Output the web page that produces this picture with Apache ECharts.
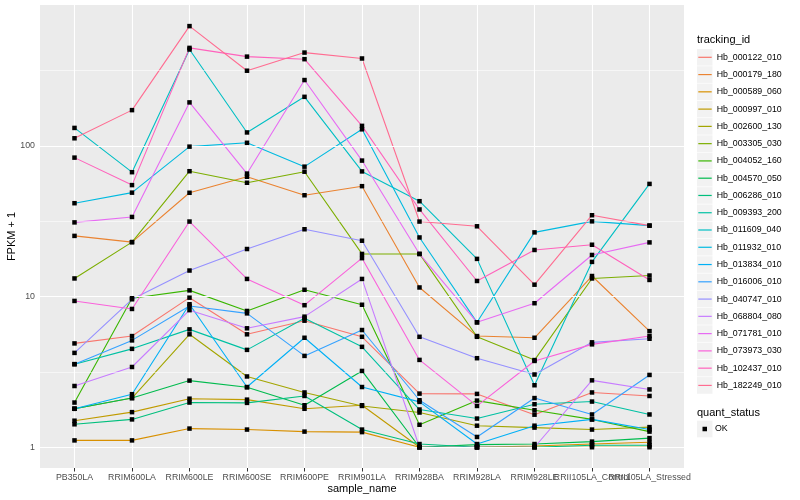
<!DOCTYPE html>
<html><head><meta charset="utf-8">
<script src="https://cdn.jsdelivr.net/npm/echarts@6/dist/echarts.min.js"></script>
<style>html,body{margin:0;padding:0;background:#fff}#c{width:800px;height:500px}</style>
</head><body><div id="c"></div>
<script>
const categories = ['PB350LA','RRIM600LA','RRIM600LE','RRIM600SE','RRIM600PE','RRIM901LA','RRIM928BA','RRIM928LA','RRIM928LE','RRII105LA_Control','RRII105LA_Stressed'];
const trackingIds = ['Hb_000122_010','Hb_000179_180','Hb_000589_060','Hb_000997_010','Hb_002600_130','Hb_003305_030','Hb_004052_160','Hb_004570_050','Hb_006286_010','Hb_009393_200','Hb_011609_040','Hb_011932_010','Hb_013834_010','Hb_016006_010','Hb_040747_010','Hb_068804_080','Hb_071781_010','Hb_073973_030','Hb_102437_010','Hb_182249_010'];
const seriesColors = ['#F8766D','#EA8331','#D89000','#C09B00','#A3A500','#7CAE00','#39B600','#00BB4E','#00BF7D','#00C1A3','#00BFC4','#00BAE0','#00B0F6','#35A2FF','#9590FF','#C77CFF','#E76BF3','#FA62DB','#FF62BC','#FF6C91'];
const yTickValues = [1, 10, 100];
const yMinorValues = [3.1623, 31.623, 316.23];

const Hb_000122_010 = [4.89, 5.47, 9.84, 5.62, 6.92, 5.41, 2.27, 2.26, 1.645, 2.31, 2.19];
const Hb_000179_180 = [25.3, 23.0, 48.9, 62.5, 47.1, 54.1, 11.5, 5.47, 5.33, 13.7, 5.9];
const Hb_000589_060 = [1.11, 1.11, 1.33, 1.31, 1.27, 1.26, 1.0, 1.0, 1.02, 1.05, 1.08];
const Hb_000997_010 = [1.50, 1.71, 2.10, 2.07, 1.80, 1.90, 1.0, 1.0, 1.0, 1.0, 1.0];
const Hb_002600_130 = [1.80, 2.12, 5.62, 2.95, 2.31, 1.88, 1.70, 1.39, 1.35, 1.31, 1.36];
const Hb_003305_030 = [13.2, 23.0, 68, 57, 67.5, 19.2, 19.2, 5.41, 3.79, 13.2, 13.8];
const Hb_004052_160 = [1.98, 9.75, 11.0, 8.03, 11.1, 8.83, 1.41, 2.04, 1.76, 1.53, 1.27];
const Hb_004570_050 = [1.80, 2.12, 2.77, 2.50, 1.90, 3.21, 1.0, 1.04, 1.05, 1.09, 1.15];
const Hb_006286_010 = [1.42, 1.53, 1.98, 1.97, 2.19, 1.31, 1.05, 1.0, 1.0, 1.03, 1.03];
const Hb_009393_200 = [3.56, 4.5, 6.06, 4.43, 7.18, 4.64, 1.78, 1.55, 1.93, 2.01, 1.65];
const Hb_011609_040 = [131.8, 67, 437, 123, 212, 67.8, 43, 17.8, 2.58, 17, 56];
const Hb_011932_010 = [41.7, 49, 99, 105, 72.9, 129, 24.7, 6.75, 26.7, 31.6, 29.6];
const Hb_013834_010 = [1.80, 2.25, 8.9, 2.51, 5.33, 2.51, 2.0, 1.05, 1.39, 1.53, 1.31];
const Hb_016006_010 = [3.56, 5.12, 8.67, 7.74, 4.04, 6.0, 2.05, 1.17, 2.12, 1.65, 3.02];
const Hb_040747_010 = [4.23, 9.6, 14.9, 20.7, 28, 23.5, 5.41, 3.9, 3.04, 4.97, 5.25];
const Hb_068804_080 = [2.55, 3.41, 8.13, 6.16, 7.36, 13.1, 1.0, 1.0, 1.0, 2.78, 2.42];
const Hb_071781_010 = [31.1, 33.8, 194.7, 65.6, 274, 80, 19.2, 6.75, 9.04, 18.9, 22.9];
const Hb_073973_030 = [9.36, 8.28, 31.5, 13.1, 8.77, 18.0, 3.8, 1.88, 3.74, 4.82, 5.47];
const Hb_102437_010 = [83.7, 55, 448, 392, 377, 136, 37.9, 12.7, 20.4, 22.1, 12.9];
const Hb_182249_010 = [112.5, 173, 625, 316, 417, 381, 31.5, 29.3, 12, 34.7, 29.6];

const seriesValues = [Hb_000122_010, Hb_000179_180, Hb_000589_060, Hb_000997_010, Hb_002600_130, Hb_003305_030, Hb_004052_160, Hb_004570_050, Hb_006286_010, Hb_009393_200, Hb_011609_040, Hb_011932_010, Hb_013834_010, Hb_016006_010, Hb_040747_010, Hb_068804_080, Hb_071781_010, Hb_073973_030, Hb_102437_010, Hb_182249_010];

const FONT = '"Liberation Sans", Arial, Helvetica, sans-serif';
const catIdx = categories.map((c, i) => i);
const evenIdx = catIdx.filter(i => i % 2 === 0);
const oddIdx = catIdx.filter(i => i % 2 === 1);

const lineSeries = trackingIds.map((id, i) => ({
  name: id, type: 'line', showSymbol: false, symbol: 'none', silent: true, z: 3,
  data: seriesValues[i].map((v, j) => [j, v]),
  itemStyle: { color: seriesColors[i] },
  lineStyle: { color: seriesColors[i], width: 1.1, opacity: 1 }
}));

const pointData = [];
seriesValues.forEach(arr => arr.forEach((v, j) => pointData.push([j, v])));
const pointSeries = {
  name: 'OK', type: 'scatter', data: pointData, symbol: 'rect', symbolSize: 4.5, z: 5, silent: true,
  itemStyle: { color: '#000', opacity: 1 }
};

const gridSeries = {
  name: '_grid', type: 'line', data: [], z: 1, silent: true,
  markLine: {
    silent: true, symbol: 'none', label: { show: false }, animation: false,
    data: [
      ...yMinorValues.map(v => ({ yAxis: v, lineStyle: { color: '#fff', width: 0.55, type: 'solid', opacity: 1 } })),
      ...yTickValues.map(v => ({ yAxis: v, lineStyle: { color: '#fff', width: 1.1, type: 'solid', opacity: 1 } })),
      ...catIdx.map(i => ({ xAxis: i, lineStyle: { color: '#fff', width: 1.1, type: 'solid', opacity: 1 } }))
    ]
  }
};

const legendTop0 = 57.3, legendStep = 17.27;
const graphics = [
  { type: 'rect', z: -10, silent: true, shape: { x: 40, y: 5, width: 644, height: 463 }, style: { fill: '#EBEBEB' } },
  { type: 'text', silent: true, x: 697, y: 40, style: { text: 'tracking_id', font: '11px ' + FONT, fill: '#000', textVerticalAlign: 'middle' } },
  { type: 'text', silent: true, x: 697, y: 412.5, style: { text: 'quant_status', font: '11px ' + FONT, fill: '#000', textVerticalAlign: 'middle' } },
  { type: 'rect', silent: true, z: -5, shape: { x: 697, y: 429 - 8.3, width: 15.5, height: 16.6 }, style: { fill: '#F2F2F2' } },
  { type: 'text', silent: true, x: 362, y: 489, style: { text: 'sample_name', font: '11px ' + FONT, fill: '#000', textAlign: 'center', textVerticalAlign: 'middle' } },
  { type: 'text', silent: true, x: 12, y: 236.5, rotation: Math.PI / 2, style: { text: 'FPKM + 1', font: '11px ' + FONT, fill: '#000', textAlign: 'center', textVerticalAlign: 'middle' } }
];
trackingIds.forEach((id, i) => {
  graphics.push({ type: 'rect', silent: true, z: -5, shape: { x: 697, y: legendTop0 + i * legendStep - 8.3, width: 15.5, height: 16.6 }, style: { fill: '#F2F2F2' } });
});

function makeXAxis(vals) {
  return {
    type: 'value', min: -0.6, max: 10.6, position: 'bottom', gridIndex: 0,
    axisLine: { show: false },
    splitLine: { show: false },
    axisTick: { show: true, customValues: vals, length: 3.5, lineStyle: { color: '#333', width: 1 } },
    axisLabel: { show: true, customValues: vals, interval: 0, hideOverlap: false, showMinLabel: true, showMaxLabel: true, formatter: v => categories[Math.round(v)], color: '#4D4D4D', fontSize: 8.8, margin: 5, fontFamily: FONT }
  };
}

const chart = echarts.init(document.getElementById('c'));
chart.setOption({
  animation: false,
  backgroundColor: '#fff',
  textStyle: { fontFamily: FONT },
  grid: { left: 40, right: 116, top: 5, height: 463, containLabel: false },
  xAxis: [makeXAxis(evenIdx), makeXAxis(oddIdx)],
  yAxis: {
    type: 'log', logBase: 10, min: 0.728, max: 863,
    axisLine: { show: false },
    splitLine: { show: false },
    minorSplitLine: { show: false },
    axisTick: { show: true, customValues: yTickValues, length: 3.5, lineStyle: { color: '#333', width: 1 } },
    axisLabel: { show: true, customValues: yTickValues, showMinLabel: true, showMaxLabel: true, color: '#4D4D4D', fontSize: 8.8, margin: 5, fontFamily: FONT }
  },
  legend: [
    {
      data: trackingIds, orient: 'vertical', left: 698.3, top: legendTop0 - 6, padding: 0,
      itemWidth: 13.4, itemHeight: 1.2, itemGap: legendStep - 12, icon: 'rect', selectedMode: false,
      textStyle: { fontSize: 8.8, color: '#000', lineHeight: 12, fontFamily: FONT }
    },
    {
      data: ['OK'], orient: 'vertical', left: 702.5, top: 429 - 6, padding: 0,
      itemWidth: 4.5, itemHeight: 4.5, icon: 'rect', selectedMode: false,
      itemStyle: { color: '#000', opacity: 1 },
      textStyle: { fontSize: 8.8, color: '#000', lineHeight: 12, padding: [0, 0, 0, 3], fontFamily: FONT }
    }
  ],
  graphic: graphics,
  series: [gridSeries, ...lineSeries, pointSeries]
});
</script>
</body></html>
